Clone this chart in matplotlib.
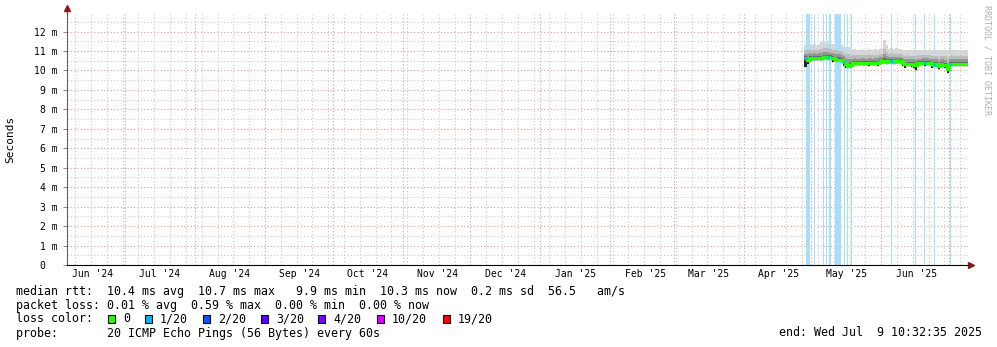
import numpy as np
import pandas as pd
import matplotlib
matplotlib.use("Agg")
from matplotlib import pyplot as plt
import matplotlib.dates as mdates

plt.rcParams['font.family'] = ['DejaVu Sans Mono']

# daily values, 2025-04-28 .. 2025-07-09 (ms)
days = pd.date_range('2025-04-28', periods=73, freq='D')
t_end = pd.Timestamp('2025-07-09 10:32:35')
t_start = pd.Timestamp('2024-06-05 08:00')

med = [10.62,10.55,10.60,10.62,10.63,10.62,10.64,10.63,10.68,10.70,
       10.68,10.66,10.62,10.58,10.56,10.55,10.52,10.45,10.35,10.25,
       10.30,10.36,10.37,10.36,10.37,10.38,10.37,10.36,10.37,10.38,
       10.37,10.38,10.40,10.44,10.46,10.46,10.45,10.47,10.46,10.45,
       10.47,10.46,10.47,10.38,10.33,10.34,10.33,10.34,10.30,10.28,
       10.36,10.38,10.39,10.38,10.39,10.38,10.32,10.30,10.33,10.22,
       10.34,10.30,10.28,10.05,10.34,10.33,10.34,10.33,10.34,10.33,
       10.34,10.33,10.33]
dark_lo = [10.20,10.35,10.45,10.56,10.57,10.56,10.58,10.57,10.62,10.60,
           10.58,10.60,10.45,10.52,10.50,10.45,10.42,10.25,10.15,10.12,
           10.18,10.30,10.31,10.30,10.31,10.32,10.31,10.30,10.22,10.32,
           10.31,10.32,10.25,10.38,10.40,10.40,10.39,10.41,10.40,10.39,
           10.41,10.40,10.41,10.25,10.15,10.28,10.27,10.20,10.10,10.00,
           10.30,10.32,10.33,10.25,10.33,10.32,10.15,10.22,10.27,10.05,
           10.28,10.20,10.15, 9.88,10.10,10.27,10.28,10.27,10.28,10.27,
           10.28,10.27,10.27]
smoke_lo = [10.15,10.30,10.40,10.47,10.48,10.47,10.49,10.48,10.53,10.52,
            10.50,10.51,10.40,10.43,10.41,10.40,10.37,10.20,10.10,10.08,
            10.12,10.22,10.22,10.21,10.22,10.23,10.22,10.21,10.18,10.23,
            10.22,10.23,10.20,10.29,10.31,10.31,10.30,10.32,10.31,10.30,
            10.32,10.31,10.32,10.20,10.10,10.19,10.18,10.15,10.05, 9.95,
            10.21,10.23,10.24,10.20,10.24,10.23,10.10,10.15,10.18,10.00,
            10.19,10.15,10.10, 9.83,10.05,10.18,10.19,10.18,10.19,10.18,
            10.19,10.18,10.18]
smoke_hi = [11.30,11.35,11.38,11.32,11.36,11.33,11.35,11.45,11.48,11.42,
            11.45,11.38,11.35,11.33,11.36,11.34,11.30,11.22,11.18,11.20,
            11.07,11.06,11.08,11.07,11.05,11.08,11.07,11.06,11.09,11.07,
            11.06,11.08,11.07,11.10,11.12,11.55,11.30,11.12,11.15,11.12,
            11.13,11.12,11.10,11.05,11.04,11.06,11.05,11.03,11.05,11.06,
            11.05,11.04,11.06,11.05,11.05,11.03,11.05,11.06,11.05,11.04,
            11.05,11.06,11.05,11.04,11.05,11.06,11.05,11.04,11.05,11.06,
            11.05,11.04,11.05]
loss_days = [0, 10, 17, 38, 53, 57, 64]   # median drawn in 1/20 colour

loss_start = ['2025-04-28 16:00','2025-05-02 05:00','2025-05-06 01:30','2025-05-07 12:00',
              '2025-05-08 20:00','2025-05-11 12:00','2025-05-15 12:00','2025-05-16 17:00',
              '2025-05-18 14:00','2025-06-05 07:00','2025-06-15 22:00','2025-06-19 22:00',
              '2025-06-24 10:00','2025-07-01 12:00']
loss_hours = [43, 11, 11, 14, 19, 65, 11, 11, 11, 11, 11, 11, 11, 11]

loss_names = ['0', '1/20', '2/20', '3/20', '4/20', '10/20', '19/20']
loss_cols = ['#26ff00', '#00b8ff', '#0059ff', '#5e00ff', '#7e00ff', '#dd00ff', '#ff0000']

W, H = 997, 347
fig = plt.figure(figsize=(W/100, H/100), dpi=100)
fig.patch.set_facecolor('white')
ax = fig.add_axes([67/W, (H-265)/H, (968-67)/W, (265-14)/H])

def px(x, y):
    return x/W, 1 - y/H

# loss background (drawn over the faintest smoke)
for s, h in zip(loss_start, loss_hours):
    s = pd.Timestamp(s)
    ax.axvspan(s, s + pd.Timedelta(hours=h), color='#a6dff8', lw=0, zorder=2.5)

# smoke, lighter further from the median
edges = mdates.date2num(list(days) + [t_end])
med_a = np.array(med)
hi_a = np.array(smoke_hi)
lo_a = np.array(smoke_lo)
ax.stairs(smoke_hi, edges, baseline=smoke_lo, fill=True, color='#d6d6d6', zorder=2)
ax.stairs(med_a + 0.6*(hi_a - med_a), edges, baseline=lo_a + 0.03,
          fill=True, color='#bcbcbc', zorder=3)
ax.stairs(med_a + 0.35*(hi_a - med_a), edges, baseline=med_a - 0.09,
          fill=True, color='#959595', zorder=4)
ax.stairs(med_a + 0.15*(hi_a - med_a), edges, baseline=med_a - 0.07,
          fill=True, color='#666666', zorder=4)
ax.stairs(med_a + 0.04, edges, baseline=dark_lo, fill=True, color='#252525', zorder=5)
ax.stairs(med, edges, baseline=None, color=loss_cols[0], lw=2.3, zorder=6)
for d in loss_days:
    ax.hlines(med[d], edges[d], edges[d+1], color=loss_cols[1], lw=2.3, zorder=7)

ax.set_xlim(t_start, t_end)
ax.set_ylim(0, 12.9)

# grid
ax.xaxis.set_major_locator(mdates.MonthLocator())
ax.xaxis.set_minor_locator(mdates.WeekdayLocator(byweekday=mdates.SU))
ax.set_yticks(range(13))
ax.set_yticks(np.arange(0.5, 13, 1), minor=True)
ax.grid(which='major', color='#e09a9a', ls=(0, (1, 2)), lw=0.8, zorder=0)
ax.grid(which='minor', color='#c8c8c8', ls=(0, (1, 2)), lw=0.8, zorder=0)
ax.set_axisbelow(True)
ax.set_xticklabels([])
ax.tick_params(axis='x', which='both', length=0)
ax.tick_params(axis='y', which='major', length=3, color='#909090', pad=4, labelsize=7)
ax.tick_params(axis='y', which='minor', length=0)
ax.set_yticklabels(['0  '] + ['%d m' % i for i in range(1, 13)])

for sp in ['top', 'right']:
    ax.spines[sp].set_visible(False)
ax.spines['left'].set_color('#606060')
ax.spines['bottom'].set_color('black')
ax.plot([0, 0], [1, 1.025], color='#606060', lw=1, transform=ax.transAxes, clip_on=False)
ax.plot([0], [1.025], marker='^', ms=5, color='#8b1a1a', transform=ax.transAxes, clip_on=False)
ax.plot([1, 1.003], [0, 0], color='black', lw=1, transform=ax.transAxes, clip_on=False)
ax.plot([1.003], [0], marker='>', ms=5, color='#8b1a1a', transform=ax.transAxes, clip_on=False)

# month labels
for m in pd.date_range('2024-06-01', '2025-06-01', freq='MS'):
    ax.text(m + pd.Timedelta(days=15.5), -0.036, m.strftime("%b '%y"), fontsize=7,
            ha='center', va='center', transform=ax.get_xaxis_transform())

fig.text(*px(10, 139), 'Seconds', rotation=90, fontsize=8, ha='center', va='center')
fig.text(*px(987, 60), 'RRDTOOL / TOBI OETIKER', rotation=270, fontsize=6,
         color='#b0b0b0', ha='center', va='center')

fs = 8.4
fig.text(*px(16, 291), 'median rtt:  10.4 ms avg  10.7 ms max   9.9 ms min  10.3 ms now  0.2 ms sd  56.5   am/s',
         fontsize=fs, va='center')
fig.text(*px(16, 305), 'packet loss: 0.01 % avg  0.59 % max  0.00 % min  0.00 % now', fontsize=fs, va='center')
fig.text(*px(16, 319), 'loss color:', fontsize=fs, va='center')
box_x = [108, 145, 203, 261, 318, 377, 443]
for bx, name, c in zip(box_x, loss_names, loss_cols):
    x0, y0 = px(bx, 323)
    fig.patches.append(plt.Rectangle((x0, y0), 7/W, 8/H, facecolor=c, edgecolor='black',
                                     lw=0.8, transform=fig.transFigure, figure=fig))
    fig.text(*px(bx + 15, 319), name, fontsize=fs, va='center')
fig.text(*px(16, 333), 'probe:       20 ICMP Echo Pings (56 Bytes) every 60s', fontsize=fs, va='center')
fig.text(*px(779, 333), 'end: Wed Jul  9 10:32:35 2025', fontsize=fs, va='center')

fig.savefig('out.png', dpi=100, facecolor='white')
